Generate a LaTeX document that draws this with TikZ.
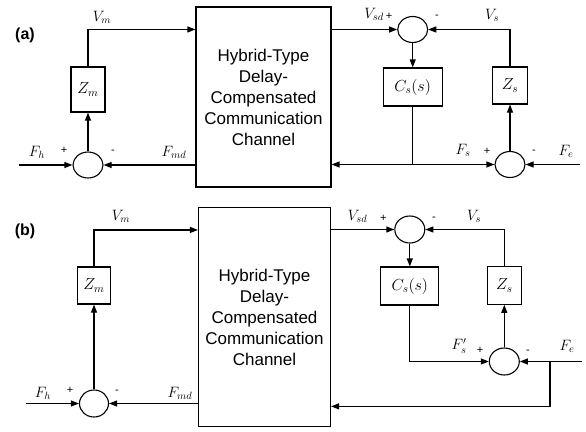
\documentclass[tikz,border=0pt]{standalone}
\usepackage{fix-cm}
\usepackage{fontspec}
\setmainfont{Liberation Sans}
\usetikzlibrary{positioning,arrows.meta,shapes.geometric}

\begin{document}
\begin{tikzpicture}[
		x=1pt, y=-1pt,
		>={Triangle[length=8pt,width=6pt]},
		line width=1.1pt,
		blk/.style={
			draw, rectangle, inner sep=0pt,
			font=\fontsize{16}{18}\selectfont
		},
		chan/.style={
			draw, rectangle, inner sep=0pt, align=center,
			font=\fontsize{17}{21}\selectfont
		},
		sum/.style={
			draw, ellipse, inner sep=0pt,
			minimum width=30pt, minimum height=26pt
		},
		lbl/.style={font=\fontsize{15}{18}\selectfont, inner sep=0pt},
		sgn/.style={font=\fontsize{11}{12}\selectfont, inner sep=0pt},
		tag/.style={font=\fontsize{16}{18}\selectfont\bfseries, inner sep=0pt}
		]
		
		\useasboundingbox (0,0) rectangle (586,431);
		
		%--------------------------------------------------
		% (a) Blocks
		%--------------------------------------------------
		
		\node[tag] (tagA) at (25,35) {(a)};
		\node[chan, minimum width=135pt, minimum height=180pt] (chA) at (263.5,97)
		{Hybrid-Type\\Delay-\\Compensated\\Communication\\Channel};
		\node[blk, minimum width=34pt, minimum height=45pt] (zmA) at (88,89.5) {$Z_m$};
		\node[sum] (sumLA) at (88,165) {};
		\node[sum] (sumTA) at (412.7,29.5) {};
		\node[blk, minimum width=59pt, minimum height=38pt] (csA) at (412.7,87) {$C_s(s)$};
		\node[blk, minimum width=35pt, minimum height=37pt] (zsA) at (510,85.5) {$Z_s$};
		\node[sum] (sumBA) at (510,164.5) {};
		
		\coordinate (fhA) at (19,165);
		\coordinate (feA) at (580,164.5);
		
		%--------------------------------------------------
		% (a) Signals
		%--------------------------------------------------
		
		\draw[->] (fhA) -- (sumLA.west);
		\draw[->] (sumLA.north) -- (zmA.south);
		\draw[->] (zmA.north) |- ([yshift=-23pt]chA.north west);
		\draw[->] (chA.west |- sumLA) -- (sumLA.east);
		
		\draw[->] (chA.east |- sumTA) -- (sumTA.west);
		\draw[->] (sumTA.south) -- (csA.north);
		\draw[->] (zsA.north) |- (sumTA.east);
		\draw (csA.south) -- (csA.south |- sumBA) coordinate (jA);
		\draw[->] (jA) -- (chA.east |- sumBA);
		\draw[->] (jA) -- (sumBA.west);
		\draw[->] (sumBA.north) -- (zsA.south);
		\draw[->] (feA) -- (sumBA.east);
		
		\node[lbl] (lVmA)  at (102,17)  {$V_m$};
		\node[lbl] (lFhA)  at (37,152)  {$F_h$};
		\node[sgn] (pFhA)  at (64,150)  {+};
		\node[sgn] (mFmA)  at (113,152) {-};
		\node[lbl] (lFmdA) at (174,152) {$F_{md}$};
		\node[lbl] (lVsdA) at (374,14)  {$V_{sd}$};
		\node[sgn] (pVsdA) at (389,16)  {+};
		\node[sgn] (mVsA)  at (437,17)  {-};
		\node[lbl] (lVsA)  at (492,15)  {$V_s$};
		\node[lbl] (lFsA)  at (463,150) {$F_s$};
		\node[sgn] (pFsA)  at (487,151) {+};
		\node[sgn] (mFeA)  at (534,152) {-};
		\node[lbl] (lFeA)  at (566,151) {$F_e$};
		
		%--------------------------------------------------
		% (b) Blocks
		%--------------------------------------------------
		
		\node[tag] (tagB) at (25,231) {(b)};
		\node[chan, minimum width=132pt, minimum height=219pt] (chB) at (264.5,317.3)
		{Hybrid-Type\\Delay-\\Compensated\\Communication\\Channel};
		\node[blk, minimum width=33pt, minimum height=37pt] (zmB) at (94,285.5) {$Z_m$};
		\node[sum, minimum width=29pt, minimum height=27pt] (sumLB) at (94,403.5) {};
		\node[sum, minimum height=27pt] (sumTB) at (409.8,229.5) {};
		\node[blk, minimum width=58pt, minimum height=38pt] (csB) at (409.8,286) {$C_s(s)$};
		\node[blk, minimum width=34pt, minimum height=37.5pt] (zsB) at (504.3,285.5) {$Z_s$};
		\node[sum, minimum height=27pt] (sumBB) at (504.3,361.5) {};
		
		\coordinate (fhB) at (26,403.5);
		\coordinate (feB) at (582,361.5);
		\coordinate (jB)  at (550,361.5);
		
		%--------------------------------------------------
		% (b) Signals
		%--------------------------------------------------
		
		\draw[->] (fhB) -- (sumLB.west);
		\draw[->] (sumLB.north) -- (zmB.south);
		\draw[->] (zmB.north) |- ([yshift=-22.7pt]chB.north west);
		\draw[->] (chB.west |- sumLB) -- (sumLB.east);
		
		\draw[->] (chB.east |- sumTB) -- (sumTB.west);
		\draw[->] (sumTB.south) -- (csB.north);
		\draw[->] (zsB.north) |- (sumTB.east);
		\draw[->] (csB.south) |- (sumBB.west);
		\draw[->] (sumBB.north) -- (zsB.south);
		\draw[->] (feB) -- (sumBB.east);
		\draw[->] (jB) |- ([yshift=21pt]chB.south east);
		
		\node[lbl] (lVmB)  at (121,216)   {$V_m$};
		\node[lbl] (lFhB)  at (43,393)    {$F_h$};
		\node[sgn] (pFhB)  at (70,390)    {+};
		\node[sgn] (mFmB)  at (117,392)   {-};
		\node[lbl] (lFmdB) at (180,393)   {$F_{md}$};
		\node[lbl] (lVsdB) at (357.5,216.7) {$V_{sd}$};
		\node[sgn] (pVsdB) at (383.3,218.3) {+};
		\node[sgn] (mVsB)  at (434,219)   {-};
		\node[lbl] (lVsB)  at (474,216.7) {$V_s$};
		\node[lbl] (lFsB)  at (459,346)   {$F_s'$};
		\node[sgn] (pFsB)  at (480,350)   {+};
		\node[sgn] (mFeB)  at (528,351.7) {-};
		\node[lbl] (lFeB)  at (567,346.7) {$F_e$};
		
	\end{tikzpicture}
\end{document}
